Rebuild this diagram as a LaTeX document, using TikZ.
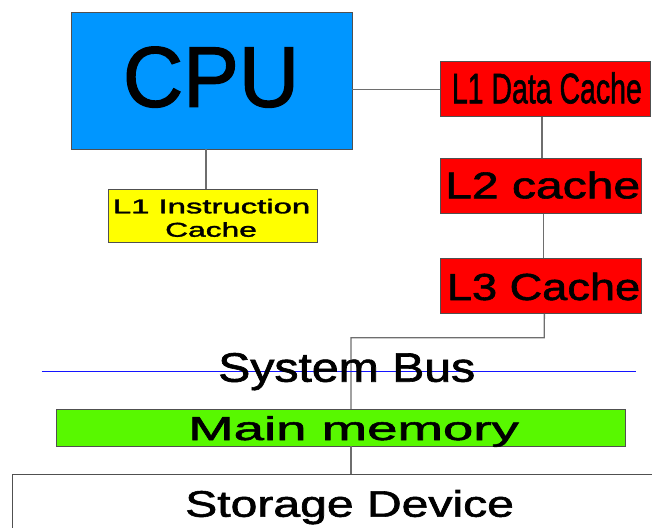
\documentclass[tikz,border=0pt]{standalone}
\usepackage{fontspec}
\setmainfont{Liberation Sans}
\newfontfamily\semifont{Liberation Sans}[UprightFeatures={FakeBold=1.5}]
\usepackage{graphicx}
\definecolor{cpublue}{RGB}{0,150,255}
\definecolor{cachered}{RGB}{255,0,0}
\definecolor{insyellow}{RGB}{255,255,0}
\definecolor{memgreen}{RGB}{88,248,0}
\definecolor{busblue}{RGB}{20,20,255}
\definecolor{edgegray}{RGB}{80,80,80}
\definecolor{linkgray}{RGB}{110,110,110}
\newcommand{\fitt}[3]{\resizebox{#1pt}{#2pt}{#3}}
\begin{document}
\begin{tikzpicture}[x=1pt,y=-1pt,
  blk/.style={draw=edgegray, line width=0.9pt, rectangle, inner sep=0pt},
  lbl/.style={anchor=base west, inner sep=0pt, text=black, font=\semifont},
  link/.style={draw=linkgray, line width=1.3pt},
  bus/.style={draw=busblue, line width=1.2pt}]
\useasboundingbox (0,0) rectangle (652,527);
\clip (0,0) rectangle (652,527);
% boxes
\node[blk, fill=cpublue, minimum width=280.3pt, minimum height=136.3pt] (cpu) at (211.85,80.85) {};
\node[blk, fill=insyellow, minimum width=209.4pt, minimum height=53.4pt] (l1i) at (213,216) {};
\node[blk, fill=cachered, minimum width=209.3pt, minimum height=55pt] (l1d) at (545.35,89.2) {};
\node[blk, fill=cachered, minimum width=201.7pt, minimum height=55pt] (l2) at (540.85,185.8) {};
\node[blk, fill=cachered, minimum width=201.7pt, minimum height=55pt] (l3) at (540.85,285.8) {};
\node[blk, fill=memgreen, minimum width=568.3pt, minimum height=36.7pt] (mem) at (340.85,427.65) {};
\node[blk, fill=white, minimum width=708pt, minimum height=126pt] (sto) at (366.3,537) {};
% connectors
\draw[link] (l1d.west) -- (l1d.west -| cpu.east);
\draw[link] ([xshift=-6pt]cpu.south) -- ([xshift=-6pt]cpu.south |- l1i.north);
\draw[link] ([xshift=1pt]l2.north) -- ([xshift=1pt]l2.north |- l1d.south);
\draw[link] ([xshift=2.5pt]l3.north) -- ([xshift=2.5pt]l3.north |- l2.south);
\coordinate (turnR) at (544.3,337.7);
\coordinate (turnL) at (351,337.7);
\draw[link] ([xshift=3.5pt]l3.south) -- (turnR) -- (turnL) -- (turnL |- mem.north);
\draw[link] ([xshift=10.2pt]mem.south) -- ([xshift=10.2pt]mem.south |- sto.north);
% bus line
\coordinate (busL) at (41.7,371.7);
\coordinate (busR) at (636,371.7);
\draw[bus] (busL) -- (busR);
% labels
\node[lbl] (tcpu) at (122.7,106.7) {\fitt{176.3}{60}{CPU}};
\node[lbl] (ti1) at (112.7,213.3) {\fitt{197.3}{14.5}{L1 Instruction}};
\node[lbl] (ti2) at (165,236.7) {\fitt{91.7}{14.5}{Cache}};
\node[lbl] (td) at (451.7,103.3) {\fitt{190}{31}{L1 Data Cache}};
\node[lbl] (t2) at (445,198.3) {\fitt{195}{27}{L2 cache}};
\node[lbl] (t3) at (446.7,300) {\fitt{193.3}{27.3}{L3 Cache}};
\node[lbl] (tbus) at (218,381.7) {\fitt{257}{28.7}{System Bus}};
\node[lbl] (tmem) at (188,440) {\fitt{330.7}{24}{Main memory}};
\node[lbl] (tsto) at (185,516.7) {\fitt{328.7}{26.7}{Storage Device}};
\end{tikzpicture}
\end{document}
